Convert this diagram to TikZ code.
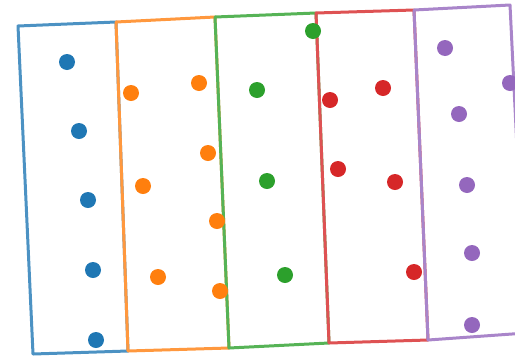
\documentclass[tikz,border=0pt]{standalone}
\usepackage{tikz}

\definecolor{tabblue}{HTML}{1F77B4}
\definecolor{taborange}{HTML}{FF7F0E}
\definecolor{tabgreen}{HTML}{2CA02C}
\definecolor{tabred}{HTML}{D62728}
\definecolor{tabpurple}{HTML}{9467BD}

\begin{document}
\begin{tikzpicture}[
    x=0.5mm, y=-0.5mm,
    frame/.style={draw, line width=1.5mm, line join=round},
    pt/.style={circle, inner sep=0pt, minimum size=8mm},
]

\useasboundingbox (0,0) rectangle (515,358);
\clip (0,0) rectangle (515,358);

% corners shared by neighbouring frames
\coordinate (t0) at (18,26);
\coordinate (t1) at (116,22);
\coordinate (t2) at (215,17);
\coordinate (t3) at (316,13);
\coordinate (t4) at (414,10);
\coordinate (t5) at (510,5);
\coordinate (u0) at (33,354);
\coordinate (u1) at (128,351);
\coordinate (u2) at (229,348);
\coordinate (u3) at (329,343);
\coordinate (u4) at (428,340);
\coordinate (u5) at (526,333);

% frames
\draw[frame, tabblue!80] (t0) -- (t1) -- (u1) -- (u0) -- cycle;
\draw[frame, taborange!80] (t1) -- (t2) -- (u2) -- (u1) -- cycle;
\draw[frame, tabgreen!80] (t2) -- (t3) -- (u3) -- (u2) -- cycle;
\draw[frame, tabred!80] (t3) -- (t4) -- (u4) -- (u3) -- cycle;
\draw[frame, tabpurple!80] (t4) -- (t5) -- (u5) -- (u4) -- cycle;

% points
\foreach \p [count=\i] in {(67,62), (79,131), (88,200), (93,270), (96,340)}
    \node[pt, fill=tabblue] (b\i) at \p {};
\foreach \p [count=\i] in {(131,93), (199,83), (208,153), (143,186), (217,221), (158,277), (220,291)}
    \node[pt, fill=taborange] (o\i) at \p {};
\foreach \p [count=\i] in {(313,31), (257,90), (267,181), (285,275)}
    \node[pt, fill=tabgreen] (g\i) at \p {};
\foreach \p [count=\i] in {(330,100), (383,88), (338,169), (395,182), (414,272)}
    \node[pt, fill=tabred] (r\i) at \p {};
\foreach \p [count=\i] in {(445,48), (510,83), (459,114), (467,185), (472,253), (472,325)}
    \node[pt, fill=tabpurple] (p\i) at \p {};

\end{tikzpicture}
\end{document}
